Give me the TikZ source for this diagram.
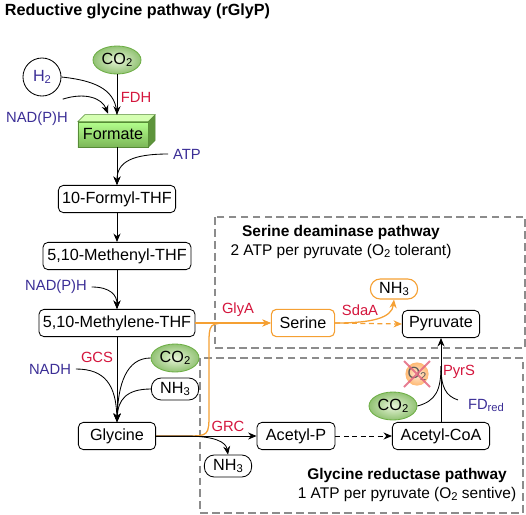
\documentclass[tikz,border=0pt]{standalone}
\usepackage{fontspec}
\setmainfont{Liberation Sans}
\usetikzlibrary{arrows.meta,shapes.geometric,positioning}
\definecolor{cofblue}{HTML}{3B2E96}
\definecolor{enzred}{HTML}{D4153C}
\definecolor{serorange}{HTML}{F5A033}
\definecolor{leafgreen}{HTML}{6DAE45}
\definecolor{palegreen}{HTML}{E8F5D9}
\definecolor{framegray}{HTML}{8C8C8C}
\newcommand{\chem}[1]{\raisebox{-0.25ex}{\fontsize{8}{9}\selectfont #1}}

\begin{document}
\begin{tikzpicture}[x=0.025cm, y=-0.025cm, font=\fontsize{11.5}{14}\selectfont,
    >={Stealth[length=6pt,width=5pt]},
    met/.style={draw, fill=white, rounded corners=3.5pt, line width=0.6pt, minimum height=0.68cm, inner xsep=2pt},
    pill/.style={draw, fill=white, rounded corners=7pt, line width=0.6pt, minimum width=1.18cm, minimum height=0.55cm, inner sep=0pt},
    gas/.style={ellipse, draw=leafgreen, line width=0.6pt, inner color=palegreen, outer color=leafgreen!75, minimum width=1.2cm, minimum height=0.7cm, inner sep=0pt},
    formatebox/.style={draw=leafgreen!80!black, line width=0.3pt, top color=green!55!lime!45, bottom color=leafgreen!90, minimum width=1.75cm, minimum height=0.63cm},
    cof/.style={text=cofblue, font=\fontsize{10.5}{12}\selectfont},
    enz/.style={text=enzred, font=\fontsize{10.5}{12}\selectfont},
    flow/.style={->, line width=0.6pt},
    orflow/.style={->, line width=0.9pt, serorange},
    frame/.style={framegray, line width=0.8pt, dash pattern=on 5.5pt off 3pt}
  ]
  \useasboundingbox (0,0) rectangle (526,514);
  \node[anchor=west, font=\fontsize{11.5}{14}\selectfont\bfseries] (title) at (0,11) {Reductive glycine pathway (rGlyP)};

  % pathway frames
  \draw[frame] (215,217) rectangle (525,348);
  \draw[frame] (200,358) rectangle (523,513);
  \node[align=center, font=\fontsize{11}{14}\selectfont] (sdtext) at (341,242) {\textbf{Serine deaminase pathway}\\2 ATP per pyruvate (O\chem{2} tolerant)};
  \node[align=center, font=\fontsize{11}{14}\selectfont] (grtext) at (407,485) {\textbf{Glycine reductase pathway}\\1 ATP per pyruvate (O\chem{2} sentive)};

  % formate and THF chain
  \node[gas] (co2top) at (117,60) {CO\chem{2}};
  \node[circle, draw, line width=0.6pt, minimum size=0.95cm, inner sep=0pt, text=cofblue] (h2) at (42,77) {H\chem{2}};
  \node[formatebox] (formate) at (113,134.5) {Formate};
  \fill[green!40!lime!30, draw=leafgreen!80!black, line width=0.3pt] (formate.north west) -- ++(7,-7) -- ([shift={(7,-7)}]formate.north east) -- (formate.north east) -- cycle;
  \fill[leafgreen!85!black, draw=leafgreen!80!black, line width=0.3pt] (formate.north east) -- ++(7,-7) -- ([shift={(7,-7)}]formate.south east) -- (formate.south east) -- cycle;
  \node[met, minimum width=2.93cm] (formyl) at (117,199) {10-Formyl-THF};
  \node[met, minimum width=3.7cm] (methenyl) at (117,256) {5,10-Methenyl-THF};
  \node[met, minimum width=3.9cm] (methylene) at (117,323) {5,10-Methylene-THF};
  \node[met, minimum width=1.93cm] (glycine) at (117,436) {Glycine};
  \node[gas] (co2mid) at (175,358) {CO\chem{2}};
  \node[pill] (nh3mid) at (175,389) {NH\chem{3}};
  \node[pill] (nh3low) at (228,466) {NH\chem{3}};

  % downstream
  \node[met, minimum width=1.95cm] (acetylp) at (296,436) {Acetyl-P};
  \node[met, minimum width=2.43cm] (acetylcoa) at (441,436) {Acetyl-CoA};
  \node[met, minimum width=1.93cm] (pyruvate) at (441,324) {Pyruvate};
  \node[met, draw=serorange, line width=0.8pt, minimum width=1.58cm] (serine) at (303,323) {Serine};
  \node[pill, draw=serorange, line width=0.8pt, minimum height=0.5cm] (nh3ser) at (394,289) {NH\chem{3}};
  \node[gas] (co2low) at (393,406) {CO\chem{2}};
  \node[circle, minimum size=0.58cm, inner sep=0pt, inner color=orange!15, outer color=orange!55, text=black!65] (o2) at (417,374) {O\chem{2}};
  \draw[enzred!65, line width=1.3pt, opacity=0.85] (o2.center) ++(-13,-13) -- ++(26,26) (o2.center) ++(13,-13) -- ++(-26,26);

  % labels
  \node[cof] (nadphA) at (37,119) {NAD(P)H};
  \node[enz] (fdh) at (136,97) {FDH};
  \node[cof] (atp) at (187,154) {ATP};
  \node[cof] (nadphB) at (56,287) {NAD(P)H};
  \node[enz] (gcs) at (97,357) {GCS};
  \node[cof] (nadh) at (50,369) {NADH};
  \node[enz] (glya) at (238,310) {GlyA};
  \node[enz] (sdaa) at (360,310) {SdaA};
  \node[enz] (grc) at (228,426) {GRC};
  \node[enz] (pyrs) at (459,372) {PyrS};
  \node[cof] (fdred) at (486,405) {FD\chem{red}};

  % reductive glycine pathway
  \coordinate (formtop) at ([shift={(4,-7)}]formate.north);
  \coordinate (nadin) at ([shift={(-5,-8)}]formate.north);
  \draw[flow] (co2top) -- (formtop);
  \draw[line width=0.6pt] (h2.east) .. controls (100,81) and (116,92) .. (formtop);
  \draw[flow] ([shift={(-10,-8)}]nadphA.north east) .. controls (85,92) and (102,98) .. (nadin);
  \draw[flow] (formyl.north |- formate.south) -- (formyl.north);
  \draw[flow] (atp.west) .. controls (132,154) and (117,162) .. (formyl.north);
  \draw[flow] (formyl) -- (methenyl);
  \draw[flow] (methenyl) -- (methylene);
  \draw[flow] (nadphB.east) .. controls (110,287) and (117,295) .. (methylene.north);
  \draw[flow] (methylene) -- (glycine);
  \draw[flow] (nadh.east) .. controls (105,369) and (116,385) .. (glycine.north);
  \draw[flow] (co2mid.west) .. controls (126,358) and (118,385) .. (glycine.north);
  \draw[flow] (nh3mid.west) .. controls (126,389) and (118,400) .. (glycine.north);

  % serine deaminase pathway
  \draw[orflow] (glycine.east) -- (185,436) .. controls (209,436) .. (209,412) -- (209,346) .. controls (209,323) .. (232,323) -- (serine.west);
  \draw[orflow] (methylene.east) -- (serine.west);
  \draw[orflow, dash pattern=on 3.5pt off 2.5pt] (serine.east) -- (pyruvate.west);
  \draw[orflow] (serine.east) .. controls (372,323) and (392,318) .. (nh3ser.south);

  % glycine reductase pathway
  \coordinate (merge) at (441,366);
  \draw[flow] (glycine.east) -- (acetylp.west);
  \draw[flow] (glycine.east) -- (185,436) .. controls (215,436) and (226,442) .. (nh3low.north);
  \draw[flow, dash pattern=on 3.5pt off 2.5pt] (acetylp.east) -- (acetylcoa.west);
  \draw[flow] (acetylcoa.north) -- (pyruvate.south);
  \draw[line width=0.6pt] (co2low.east) .. controls (436,401) and (441,390) .. (merge);
  \draw[line width=0.6pt] ([shift={(-5,-5)}]fdred.west) .. controls (446,396) and (441,388) .. (merge);
\end{tikzpicture}
\end{document}
